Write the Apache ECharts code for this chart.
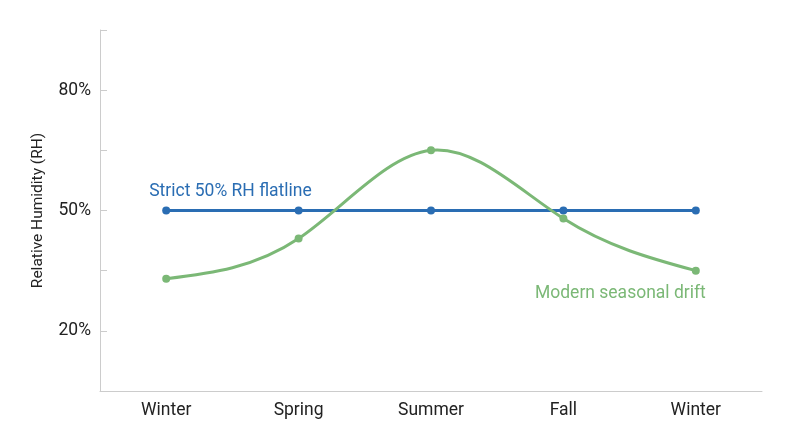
<!DOCTYPE html>
<html><head><meta charset="utf-8">
<script src="https://cdn.jsdelivr.net/npm/echarts@6/dist/echarts.min.js"></script>
<style>html,body{margin:0;padding:0;background:#fff}#c{width:800px;height:447px}</style>
</head><body><div id="c"></div>
<script>
const categories = ['Winter', 'Spring', 'Summer', 'Fall', 'Winter'];
const strictRH = [50, 50, 50, 50, 50];
const modernRH = [33, 43, 65, 48, 35];
const yTicksShown = [20, 50, 80];
const blue = '#2a6db3', green = '#7bb876';
const chart = echarts.init(document.getElementById('c'));

// natural cubic spline second derivatives (uniform spacing) via Thomas algorithm
function naturalM(y) {
  const n = y.length, M = new Array(n).fill(0);
  if (n < 3) return M;
  const m = n - 2, a = [], b = [], c = [], d = [];
  for (let i = 1; i <= m; i++) {
    a.push(1); b.push(4); c.push(1);
    d.push(6 * (y[i + 1] - 2 * y[i] + y[i - 1]));
  }
  for (let i = 1; i < m; i++) {
    const w = a[i] / b[i - 1];
    b[i] -= w * c[i - 1]; d[i] -= w * d[i - 1];
  }
  const x = new Array(m);
  x[m - 1] = d[m - 1] / b[m - 1];
  for (let i = m - 2; i >= 0; i--) x[i] = (d[i] - c[i] * x[i + 1]) / b[i];
  for (let i = 0; i < m; i++) M[i + 1] = x[i];
  return M;
}
const splineM = naturalM(modernRH);

function renderSegment(params, api) {
  const i = params.dataIndex;
  if (i >= modernRH.length - 1) return null;
  const y0 = modernRH[i], y1 = modernRH[i + 1];
  const sL = (y1 - y0) - (2 * splineM[i] + splineM[i + 1]) / 6;
  const sR = (y1 - y0) + (splineM[i] + 2 * splineM[i + 1]) / 6;
  const p1 = api.coord([i, y0]), p2 = api.coord([i + 1, y1]);
  const c1 = api.coord([i, y0 + sL / 3]), c2 = api.coord([i + 1, y1 - sR / 3]);
  return {
    type: 'bezierCurve',
    shape: {
      x1: p1[0], y1: p1[1], x2: p2[0], y2: p2[1],
      cpx1: p1[0] + (p2[0] - p1[0]) / 3, cpy1: c1[1],
      cpx2: p2[0] - (p2[0] - p1[0]) / 3, cpy2: c2[1]
    },
    style: { stroke: green, lineWidth: 3, fill: null, lineCap: 'round' }
  };
}

chart.setOption({
  animation: false,
  textStyle: { fontFamily: 'Roboto' },
  grid: { left: 100, right: 38, top: 30, bottom: 56 },
  xAxis: {
    type: 'category', data: categories, boundaryGap: true,
    axisLine: { lineStyle: { color: '#cccccc', width: 1 } },
    axisTick: { inside: true, length: 7, lineStyle: { color: '#cccccc' } },
    axisLabel: { color: '#222', fontSize: 17.5, margin: 11 }
  },
  yAxis: {
    type: 'value', min: 5, max: 95, interval: 15,
    name: 'Relative Humidity (RH)', nameLocation: 'middle', nameGap: 54,
    nameTextStyle: { color: '#222', fontSize: 15.5 },
    axisLine: { show: true, lineStyle: { color: '#cccccc', width: 1 } },
    axisTick: { show: true, inside: true, length: 7, lineStyle: { color: '#cccccc' } },
    splitLine: { show: false },
    axisLabel: { color: '#222', fontSize: 17.5, margin: 9,
      formatter: v => yTicksShown.includes(v) ? v + '%' : '' }
  },
  series: [
    {
      name: 'Strict 50% RH flatline', type: 'line', data: strictRH.map((v, i) => i === 0 ? {
        value: v,
        label: { show: true, position: 'top', align: 'left', offset: [-17, 0], distance: 6,
          formatter: 'Strict 50% RH flatline', color: blue, fontSize: 17.5 }
      } : v),
      symbol: 'circle', symbolSize: 8, color: blue,
      lineStyle: { color: blue, width: 3 }, itemStyle: { color: blue }, z: 2
    },
    {
      name: 'Modern seasonal drift curve', type: 'custom',
      data: modernRH.map((v, i) => [i, v]),
      encode: { x: 0, y: 1 },
      renderItem: renderSegment, z: 3, silent: true
    },
    {
      name: 'Modern seasonal drift', type: 'line', data: modernRH.map((v, i) => i === modernRH.length - 1 ? {
        value: v,
        label: { show: true, position: 'bottom', align: 'right', offset: [10, 0], distance: 10,
          formatter: 'Modern seasonal drift', color: green, fontSize: 17.5 }
      } : v),
      symbol: 'circle', symbolSize: 8, color: green,
      lineStyle: { opacity: 0 }, itemStyle: { color: green }, z: 4
    }
  ]
});
</script></body></html>
